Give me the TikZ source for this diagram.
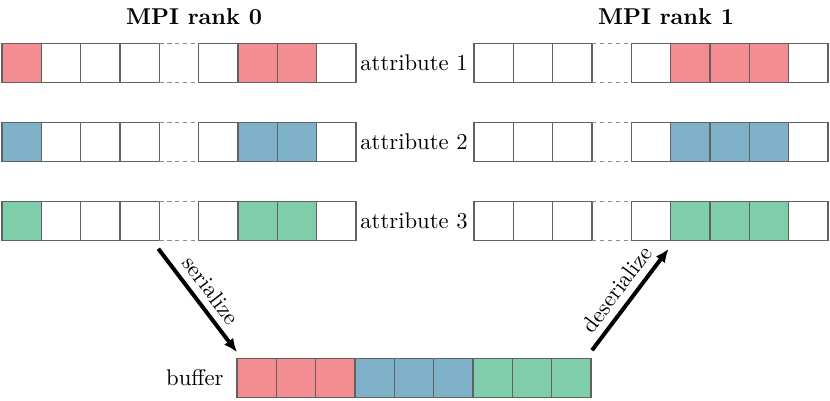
\documentclass[tikz,border=0pt]{standalone}
\usetikzlibrary{arrows.meta}
\definecolor{cred}{RGB}{244,141,146}
\definecolor{cblue}{RGB}{127,178,200}
\definecolor{cgreen}{RGB}{127,205,171}
\begin{document}
\begin{tikzpicture}[x=0.476pt,y=-0.476pt,
  cell/.style={minimum width=18.72pt,minimum height=18.8pt,inner sep=0pt,outer sep=0pt,draw=black!62,line width=0.55pt},
  gapcell/.style={minimum width=18.72pt,minimum height=18.8pt,inner sep=0pt,outer sep=0pt},
  dashedge/.style={draw=black!45,dash pattern=on 2pt off 1.8pt,line width=0.55pt},
  lbl/.style={font=\fontsize{10.8}{13}\selectfont},
  ttl/.style={font=\fontsize{10.9}{13}\selectfont\bfseries},
  bigarrow/.style={line width=1.9pt,-{Latex[length=6.5pt,width=5.5pt]}}]
\useasboundingbox (0,0) rectangle (830,400);
% titles
\node[ttl] (t0) at (194,17) {MPI rank 0};
\node[ttl] (t1) at (666,17) {MPI rank 1};
% rows
\foreach \r/\y/\c in {1/63/cred,2/142/cblue,3/221/cgreen}{
  % left rank
  \foreach \i/\f in {0/\c,1/white,2/white,3/white,5/white,6/\c,7/\c,8/white}{
    \node[cell,fill=\f] (L\r-\i) at (21.67+39.33*\i,\y) {};
  }
  \node[gapcell] (L\r-4) at (21.67+39.33*4,\y) {};
  \draw[dashedge] (L\r-4.north west) -- (L\r-4.north east);
  \draw[dashedge] (L\r-4.south west) -- (L\r-4.south east);
  % right rank
  \foreach \i/\f in {0/white,1/white,2/white,4/white,5/\c,6/\c,7/\c,8/white}{
    \node[cell,fill=\f] (R\r-\i) at (493.67+39.33*\i,\y) {};
  }
  \node[gapcell] (R\r-3) at (493.67+39.33*3,\y) {};
  \draw[dashedge] (R\r-3.north west) -- (R\r-3.north east);
  \draw[dashedge] (R\r-3.south west) -- (R\r-3.south east);
  % label
  \node[lbl] (a\r) at (414,\y) {attribute \r};
}
% buffer
\foreach \i/\f in {0/cred,1/cred,2/cred,3/cblue,4/cblue,5/cblue,6/cgreen,7/cgreen,8/cgreen}{
  \node[cell,fill=\f] (B-\i) at (256.67+39.33*\i,378) {};
}
\node[lbl,anchor=east] (bl) at (231,378) {buffer};
% arrows
\draw[bigarrow] ([shift={(-1,8)}]L3-3.south east) -- node[lbl,sloped,above] {serialize} ([shift={(0,-6)}]B-0.north west);
\draw[bigarrow] ([shift={(1,-8)}]B-8.north east) -- node[lbl,sloped,above] {deserialize} ([shift={(-2,8)}]R3-5.south west);
\end{tikzpicture}
\end{document}
